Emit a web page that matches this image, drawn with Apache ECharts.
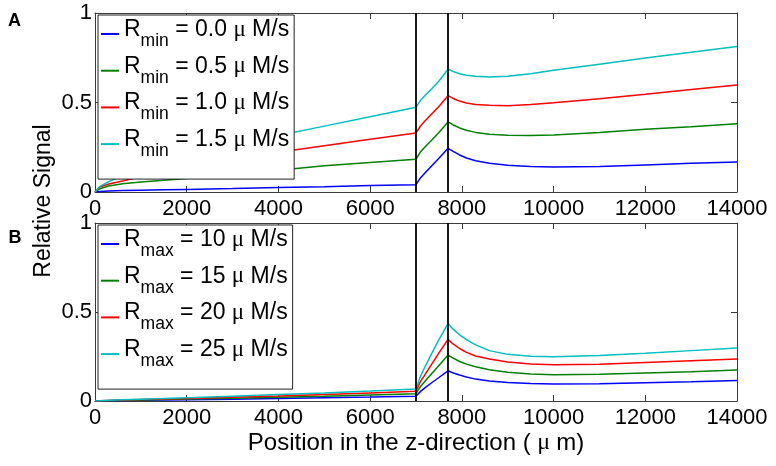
<!DOCTYPE html>
<html><head><meta charset="utf-8">
<script src="https://cdn.jsdelivr.net/npm/echarts@6/dist/echarts.min.js"></script>
<style>html,body{margin:0;padding:0;background:#fff}#c{width:776px;height:466px}</style>
</head><body><div id="c"></div>
<script>
// Position along z (μm)
const xs = [0,100,300,600,1000,1500,2000,3000,4000,5000,6000,7000,7100,7200,7350,7500,7600,7700,7800,7950,8100,8300,8600,9000,9500,10000,11000,12000,13000,14000];

// Panel A: varying R_min
const rminLabels = ['R_min = 0.0 μ M/s','R_min = 0.5 μ M/s','R_min = 1.0 μ M/s','R_min = 1.5 μ M/s'];
const rmin00 = [0,0.003,0.006,0.008,0.010,0.012,0.014,0.019,0.025,0.030,0.036,0.041,0.080,0.108,0.148,0.188,0.216,0.244,0.228,0.207,0.190,0.175,0.160,0.150,0.143,0.140,0.142,0.151,0.160,0.168];
const rmin05 = [0,0.018,0.033,0.046,0.056,0.066,0.075,0.097,0.122,0.146,0.165,0.183,0.225,0.253,0.292,0.333,0.362,0.392,0.376,0.358,0.345,0.333,0.322,0.317,0.316,0.319,0.333,0.350,0.365,0.381];
const rmin10 = [0,0.028,0.045,0.062,0.085,0.108,0.130,0.178,0.222,0.259,0.295,0.329,0.370,0.398,0.438,0.478,0.508,0.538,0.524,0.508,0.497,0.489,0.484,0.482,0.489,0.499,0.521,0.546,0.572,0.598];
const rmin15 = [0,0.030,0.058,0.090,0.125,0.160,0.195,0.255,0.316,0.368,0.420,0.473,0.513,0.540,0.578,0.620,0.652,0.687,0.674,0.661,0.652,0.646,0.643,0.647,0.660,0.680,0.714,0.748,0.781,0.813];

// Panel B: varying R_max
const rmaxLabels = ['R_max = 10 μ M/s','R_max = 15 μ M/s','R_max = 20 μ M/s','R_max = 25 μ M/s'];
const rmax10 = [0,0.001,0.002,0.003,0.004,0.005,0.007,0.010,0.014,0.018,0.022,0.027,0.054,0.075,0.104,0.132,0.151,0.170,0.159,0.146,0.135,0.123,0.112,0.104,0.098,0.096,0.097,0.103,0.108,0.115];
const rmax15 = [0,0.001,0.002,0.004,0.006,0.008,0.011,0.016,0.021,0.027,0.034,0.041,0.082,0.112,0.156,0.200,0.229,0.258,0.242,0.222,0.207,0.192,0.175,0.161,0.152,0.148,0.150,0.157,0.165,0.174];
const rmax20 = [0,0.0015,0.003,0.005,0.008,0.011,0.014,0.021,0.028,0.036,0.045,0.055,0.110,0.150,0.210,0.270,0.308,0.346,0.322,0.295,0.273,0.253,0.236,0.219,0.208,0.204,0.206,0.216,0.226,0.236];
const rmax25 = [0,0.002,0.004,0.007,0.010,0.014,0.018,0.027,0.036,0.045,0.056,0.068,0.140,0.195,0.270,0.345,0.390,0.436,0.405,0.372,0.345,0.315,0.283,0.262,0.252,0.249,0.255,0.268,0.283,0.298];

const boundaries = [7000, 7700];
const xMin = 0, xMax = 14000, xStep = 2000;
const yMin = 0, yMax = 1, yStep = 0.5;
const colors = ['#0000ff','#008000','#ff0000','#00bfbf'];

const FONT = "'Liberation Sans', Arial, Helvetica, sans-serif";
const SERIF = "'Liberation Serif', 'DejaVu Serif', serif";
const FRAME = '#3a3a3a';

function pairs(vals){ return xs.map((x,i)=>[x, vals[i]]); }

function xAx(gi, pos, labels){
  return {type:'value', gridIndex:gi, position:pos, min:xMin, max:xMax, interval:xStep,
    axisLine:{show:true, onZero:false, lineStyle:{color:FRAME, width:1}},
    axisTick:{show:true, inside:true, length:6, lineStyle:{color:FRAME}},
    axisLabel:{show:labels, color:'#000', fontSize:22, fontFamily:FONT, margin:6, formatter:v=>String(v)},
    splitLine:{show:false}};
}
function yAx(gi, pos, labels){
  return {type:'value', gridIndex:gi, position:pos, min:yMin, max:yMax, interval:yStep,
    axisLine:{show:true, onZero:false, lineStyle:{color:FRAME, width:1}},
    axisTick:{show:true, inside:true, length:6, lineStyle:{color:FRAME}},
    axisLabel:{show:labels, color:'#000', fontSize:22, fontFamily:FONT, margin:3, formatter:v=>String(v)},
    splitLine:{show:false}};
}

function legendFmt(name){
  const m = name.match(/^R_(\w+)(.*)μ(.*)$/);
  return '{sp|\u200b}{r|R}{s|' + m[1] + '}{r|' + m[2] + '}{mu|μ}{r|' + m[3] + '}';
}
const richLegend = {
  sp:{fontSize:23, lineHeight:32, fontFamily:FONT},
  r:{fontSize:23, lineHeight:24, verticalAlign:'top', fontFamily:FONT, color:'#000'},
  s:{fontSize:17.5, lineHeight:17, verticalAlign:'bottom', fontFamily:FONT, color:'#000'},
  mu:{fontSize:23, lineHeight:24, verticalAlign:'top', fontFamily:SERIF, color:'#000'}
};
function legendCfg(names, top){
  return {data:names, orient:'vertical', left:98, top:top, backgroundColor:'#fff',
    borderColor:'#222', borderWidth:1, padding:[3,5,19,3], itemGap:4.7,
    itemWidth:18, itemHeight:2, icon:'rect', formatter:legendFmt,
    textStyle:{color:'#000', fontFamily:FONT, fontSize:23, rich:richLegend}, z:10};
}

const vline = {silent:true, symbol:'none', label:{show:false},
  lineStyle:{color:'#000', width:1.8, type:'solid'},
  data: boundaries.map(b=>({xAxis:b}))};

function mkSeries(name, vals, idx, axIdx, withMark){
  const s = {type:'line', name:name, xAxisIndex:axIdx, yAxisIndex:axIdx, data:pairs(vals),
    showSymbol:false, symbol:'none', lineStyle:{width:1.5, color:colors[idx]}, itemStyle:{color:colors[idx]},
    z:3};
  if (withMark) s.markLine = vline;
  return s;
}

const A = [rmin00, rmin05, rmin10, rmin15];
const B = [rmax10, rmax15, rmax20, rmax25];
const series = [];
A.forEach((v,i)=>series.push(mkSeries(rminLabels[i], v, i, 0, i===0)));
B.forEach((v,i)=>series.push(mkSeries(rmaxLabels[i], v, i, 2, i===0)));

const chart = echarts.init(document.getElementById('c'), null, {renderer:'canvas'});
chart.setOption({
  animation:false,
  backgroundColor:'#fff',
  grid:[
    {left:95, top:13, width:642, height:179},
    {left:95, top:223, width:642, height:178}
  ],
  xAxis:[
    xAx(0,'bottom',true), xAx(0,'top',false),
    Object.assign(xAx(1,'bottom',true), {
      name:'Position in the z-direction ( {mu|μ }m)', nameLocation:'middle', nameGap:30,
      nameTextStyle:{color:'#000', fontSize:24, fontFamily:FONT,
        rich:{mu:{fontSize:24, fontFamily:SERIF, color:'#000'}}}
    }),
    xAx(1,'top',false)
  ],
  yAxis:[
    yAx(0,'left',true), yAx(0,'right',false),
    yAx(1,'left',true), yAx(1,'right',false)
  ],
  legend:[ legendCfg(rminLabels, 15), legendCfg(rmaxLabels, 225) ],
  graphic:[
    {type:'text', x:44, y:201, rotation:Math.PI/2,
      style:{text:'Relative Signal', fontSize:23, fontFamily:FONT, fill:'#000', align:'center', verticalAlign:'middle'}},
    {type:'text', x:14.5, y:21.5,
      style:{text:'A', fontSize:18, fontWeight:'bold', fontFamily:FONT, fill:'#000', align:'center', verticalAlign:'middle'}},
    {type:'text', x:15, y:238,
      style:{text:'B', fontSize:18, fontWeight:'bold', fontFamily:FONT, fill:'#000', align:'center', verticalAlign:'middle'}}
  ],
  series:series
});
</script></body></html>
